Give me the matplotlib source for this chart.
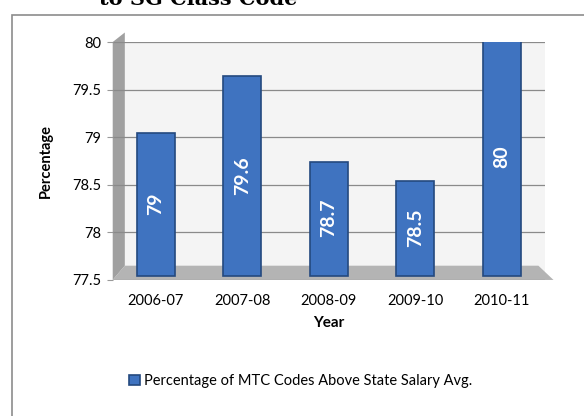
import matplotlib.pyplot as plt
from matplotlib.patches import Polygon, Rectangle

years = ["2006-07", "2007-08", "2008-09", "2009-10", "2010-11"]
values = [79.0, 79.6, 78.7, 78.5, 80.0]
labels = ["79", "79.6", "78.7", "78.5", "80"]
yticks = [77.5, 78, 78.5, 79, 79.5, 80]

plt.rcParams['font.family'] = ['Lato', 'DejaVu Sans']

fig = plt.figure(figsize=(5.84, 4.16), dpi=100)
ax = fig.add_axes([0.193, 0.327, 0.74, 0.572])

# outer chart border
fig.patches.append(Rectangle((12 / 584, -0.01), 1.0, 1 - 15 / 416 + 0.01,
                             transform=fig.transFigure, fill=False,
                             edgecolor="#8c8c8c", linewidth=1.2))
# title, cut off by the top edge as in the source image
fig.text(0.17, 1 - 5 / 416, "to SG Class Code", family="DejaVu Serif",
         fontweight="bold", fontsize=15, va="baseline", ha="left")

ax.set_facecolor("#f4f4f4")
ax.set_xlim(-0.5, 4.5)
ax.set_ylim(77.5, 80)
ax.set_yticks(yticks)
ax.set_yticklabels(["77.5", "78", "78.5", "79", "79.5", "80"])
ax.yaxis.grid(True, color="#8a8a8a", linewidth=0.9)
ax.set_axisbelow(True)
for s in ax.spines.values():
    s.set_visible(False)
ax.tick_params(axis="y", length=4, color="#999999", labelsize=10.5, pad=4)
ax.tick_params(axis="x", length=0, labelsize=10.5, pad=10)

# 3D-ish wall and floor
ax.add_patch(Polygon([[0, 0], [0.028, 0.06], [0.028, 1.04], [0, 1.0]],
                     closed=True, transform=ax.transAxes, facecolor="#a0a0a0",
                     edgecolor="none", clip_on=False, zorder=0.5))
ax.add_patch(Polygon([[0, 0], [0.028, 0.06], [0.985, 0.06], [1.02, 0]],
                     closed=True, transform=ax.transAxes, facecolor="#b4b4b4",
                     edgecolor="none", clip_on=False, zorder=0.5))

x = range(len(years))
bars = ax.bar(x, [v - 77.5 for v in values], bottom=77.5 + 0.04, width=0.44,
              color="#3f73c0", edgecolor="#24497f", linewidth=1.2, zorder=3)
for xi, v, lab in zip(x, values, labels):
    ax.text(xi, (77.5 + v) / 2 + 0.05, lab, rotation=90, color="white",
            fontweight="bold", fontsize=14, ha="center", va="center", zorder=4)

ax.set_xticks(list(x))
ax.set_xticklabels(years)
ax.set_xlabel("Year", fontweight="bold", fontsize=11, labelpad=6)
ax.set_ylabel("Percentage", fontweight="bold", fontsize=10.5, labelpad=14)

leg = fig.legend([bars[0]], ["Percentage of MTC Codes Above State Salary Avg."],
                 loc="center", bbox_to_anchor=(0.515, 1 - 381 / 416),
                 frameon=False, fontsize=10.5, handlelength=0.7,
                 handleheight=0.7, handletextpad=0.3)

fig.savefig("out.png", dpi=100)
